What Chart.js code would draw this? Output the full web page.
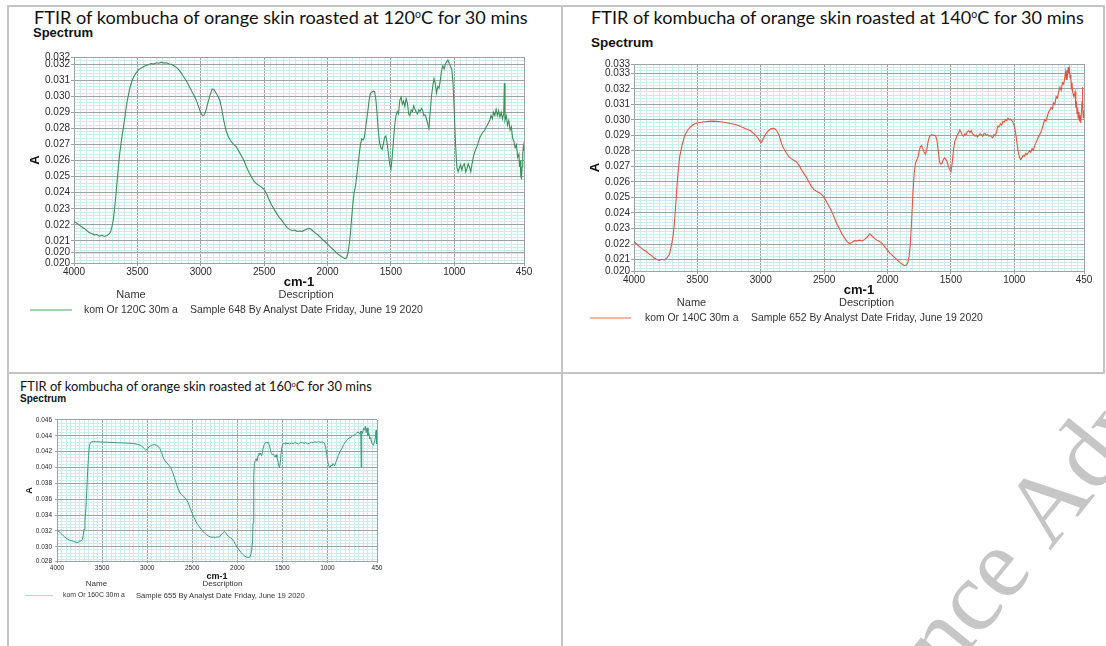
<!DOCTYPE html>
<html>
<head>
<meta charset="utf-8">
<script src="https://cdn.jsdelivr.net/npm/chart.js@4.4.1/dist/chart.umd.min.js"></script>
<style>
  html, body { margin: 0; padding: 0; background: #fff; }
  #page { position: relative; width: 1106px; height: 646px; overflow: hidden; background: #fff; }
  .rule { position: absolute; background: #c4c4c4; }
  .txt { position: absolute; white-space: nowrap; line-height: 1; }
  .head { font-family: Lato, "Open Sans", sans-serif; color: #111; }
  .head sup { font-size: 0.58em; vertical-align: 0.6em; line-height: 0; }
  .spec { font-family: "Liberation Sans", Arial, sans-serif; font-weight: bold; color: #111; }
  .leg { font-family: "Liberation Sans", Arial, sans-serif; color: #333; }
  canvas.plot, canvas.mark { position: absolute; }
  canvas.mark { left: 0; top: 0; pointer-events: none; }
</style>
</head>
<body>
<div id="page"></div>
<script>
// ---------- wavenumber axis (shared) ----------
const xMajorTicks = [4000, 3500, 3000, 2500, 2000, 1500, 1000, 450];
const xTickLabels = ['4000', '3500', '3000', '2500', '2000', '1500', '1000', '450'];

// ---------- kom Or 120C 30m a ----------
const wn120 = [4000,3980,3960,3940,3920,3900,3880,3860,3840,3820,3800,3780,3760,3740,3720,3710,3700,3690,3680,3670,
  3660,3650,3640,3630,3620,3610,3600,3590,3580,3570,3560,3545,3530,3510,3490,3470,3450,3430,3410,3390,
  3370,3350,3330,3310,3290,3270,3250,3230,3210,3190,3170,3150,3130,3110,3090,3070,3050,3030,3015,3000,
  2985,2970,2955,2940,2925,2910,2895,2880,2865,2850,2835,2820,2800,2780,2760,2740,2720,2700,2680,2660,
  2640,2620,2600,2580,2560,2540,2520,2500,2480,2460,2440,2420,2400,2380,2360,2340,2320,2300,2280,2260,
  2240,2220,2200,2180,2160,2140,2120,2100,2080,2060,2040,2020,2000,1980,1960,1940,1920,1900,1880,1865,
  1850,1840,1830,1820,1810,1800,1790,1780,1770,1760,1750,1740,1730,1720,1710,1700,1690,1680,1670,1660,
  1650,1640,1630,1620,1610,1600,1590,1580,1570,1560,1550,1540,1530,1520,1510,1500,1490,1480,1470,1460,
  1450,1440,1430,1420,1410,1400,1390,1380,1370,1360,1350,1340,1330,1320,1310,1300,1290,1280,1270,1260,
  1250,1240,1230,1220,1210,1200,1190,1180,1170,1160,1150,1140,1130,1120,1110,1100,1090,1080,1070,1060,
  1050,1040,1030,1020,1010,1000,990,980,970,960,950,940,930,920,910,900,890,880,870,860,
  850,840,830,820,810,800,780,760,740,720,710,700,690,680,670,660,650,640,630,620,
  610,605,600,590,580,570,560,550,540,530,520,510,500,490,485,480,475,470,465,460,455,450];
const abs120 = [.02220,.02212,.02200,.02188,.02178,.02165,.02152,.02146,.02138,.02140,.02130,.02135,.02128,.02134,.02145,.02160,.02190,.02230,.02300,.02380,
  .02470,.02560,.02640,.02700,.02760,.02810,.02860,.02920,.02970,.03010,.03050,.03090,.03120,.03145,.03165,.03175,.03185,.03192,.03198,.03203,
  .03200,.03208,.03205,.03212,.03206,.03208,.03200,.03198,.03188,.03178,.03162,.03140,.03115,.03090,.03060,.03030,.03000,.02965,.02930,.02895,
  .02878,.02885,.02925,.02970,.03012,.03045,.03040,.03022,.03000,.02975,.02925,.02855,.02785,.02745,.02718,.02700,.02685,.02660,.02630,.02600,
  .02562,.02528,.02498,.02472,.02456,.02446,.02434,.02420,.02392,.02355,.02322,.02295,.02270,.02245,.02228,.02205,.02185,.02172,.02165,.02168,
  .02160,.02162,.02160,.02168,.02175,.02178,.02165,.02152,.02140,.02125,.02110,.02095,.02080,.02065,.02050,.02035,.02020,.02008,.01998,.01990,
  .01995,.02020,.02070,.02140,.02240,.02330,.02400,.02440,.02500,.02570,.02640,.02700,.02735,.02728,.02742,.02800,.02860,.02920,.02985,.03020,
  .03025,.03032,.03030,.02990,.02900,.02790,.02715,.02680,.02670,.02700,.02745,.02752,.02712,.02645,.02580,.02545,.02620,.02720,.02820,.02880,
  .02905,.02890,.02975,.02995,.02950,.02970,.02935,.02985,.02960,.02890,.02880,.02915,.02905,.02940,.02920,.02900,.02890,.02915,.02905,.02925,
  .02915,.02880,.02885,.02860,.02830,.02800,.02900,.03000,.03060,.03110,.03080,.03020,.03060,.03050,.03100,.03160,.03190,.03170,.03200,.03215,
  .03225,.03205,.03185,.03170,.03080,.02900,.02700,.02560,.02530,.02555,.02575,.02540,.02570,.02580,.02530,.02550,.02580,.02560,.02530,.02580,
  .02620,.02650,.02670,.02690,.02715,.02740,.02770,.02790,.02820,.02850,.02880,.02860,.02900,.02880,.02920,.02880,.02910,.02870,.02900,.02860,
  .02890,.03080,.02850,.02880,.02820,.02850,.02790,.02810,.02740,.02720,.02680,.02700,.02620,.02640,.02560,.02600,.02500,.02490,.02560,.02640,.02690,.02660];
const yTicks120 = [0.01963, 0.0203, 0.021, 0.022, 0.023, 0.024, 0.025, 0.026, 0.027, 0.028, 0.029, 0.030, 0.031, 0.032, 0.03244];
const yLabels120 = ['0.020', '0.020', '0.021', '0.022', '0.023', '0.024', '0.025', '0.026', '0.027', '0.028', '0.029', '0.030', '0.031', '0.032', '0.032'];

// ---------- kom Or 140C 30m a ----------
const wn140 = [4000,3980,3960,3940,3920,3900,3880,3860,3840,3820,3800,3780,3760,3740,3720,3710,3700,3690,3680,3670,
  3660,3650,3640,3630,3620,3610,3600,3580,3560,3540,3520,3500,3470,3440,3410,3380,3350,3320,3290,3260,
  3230,3200,3170,3140,3110,3080,3060,3040,3020,3005,2995,2980,2960,2940,2920,2900,2885,2870,2855,2840,
  2825,2800,2780,2760,2740,2720,2700,2680,2660,2640,2620,2600,2580,2560,2540,2520,2500,2480,2460,2440,
  2420,2400,2380,2360,2340,2320,2300,2280,2260,2240,2220,2200,2180,2160,2140,2120,2100,2080,2060,2040,
  2020,2000,1980,1960,1940,1920,1900,1880,1865,1850,1840,1830,1820,1810,1800,1790,1780,1770,1760,1750,
  1740,1730,1720,1710,1700,1690,1680,1670,1660,1650,1640,1630,1620,1610,1600,1590,1580,1570,1560,1550,
  1540,1530,1520,1510,1500,1490,1480,1470,1460,1450,1440,1430,1420,1410,1400,1390,1380,1370,1360,1350,
  1340,1330,1320,1310,1300,1290,1280,1270,1260,1250,1240,1230,1220,1210,1200,1190,1180,1170,1160,1150,
  1140,1130,1120,1110,1100,1090,1080,1070,1060,1050,1040,1030,1020,1010,1000,990,980,970,960,950,
  940,930,920,910,900,890,880,870,860,850,840,830,820,810,800,790,780,770,760,750,
  740,730,720,710,700,690,680,670,660,650,640,630,620,610,600,595,590,585,580,575,
  570,565,560,555,550,545,540,530,520,515,510,505,500,495,490,485,480,475,470,465,462,460,455,450];
const abs140 = [.02215,.02200,.02185,.02172,.02160,.02150,.02135,.02125,.02110,.02100,.02095,.02102,.02098,.02110,.02135,.02170,.02210,.02260,.02350,.02460,
  .02590,.02680,.02760,.02800,.02840,.02870,.02900,.02930,.02950,.02965,.02975,.02980,.02985,.02988,.02990,.02992,.02990,.02988,.02985,.02980,
  .02975,.02970,.02962,.02950,.02940,.02930,.02915,.02900,.02880,.02860,.02855,.02880,.02910,.02930,.02942,.02945,.02940,.02925,.02900,.02860,
  .02825,.02790,.02765,.02750,.02740,.02730,.02710,.02680,.02655,.02630,.02600,.02570,.02550,.02540,.02530,.02520,.02500,.02470,.02440,.02410,
  .02370,.02330,.02300,.02265,.02240,.02215,.02203,.02210,.02222,.02220,.02225,.02220,.02230,.02245,.02265,.02250,.02235,.02222,.02215,.02200,
  .02180,.02160,.02140,.02125,.02110,.02095,.02080,.02068,.02060,.02065,.02080,.02120,.02200,.02350,.02520,.02650,.02720,.02740,.02760,.02800,
  .02830,.02835,.02810,.02790,.02780,.02810,.02860,.02890,.02900,.02905,.02900,.02900,.02895,.02870,.02800,.02730,.02715,.02720,.02745,.02755,
  .02745,.02730,.02700,.02680,.02665,.02720,.02800,.02860,.02880,.02900,.02915,.02935,.02920,.02900,.02895,.02910,.02905,.02925,.02930,.02918,
  .02930,.02910,.02905,.02895,.02902,.02890,.02900,.02910,.02905,.02895,.02910,.02912,.02900,.02905,.02895,.02900,.02890,.02885,.02905,.02900,
  .02920,.02960,.02955,.02975,.02965,.02990,.02985,.03000,.02995,.03010,.03000,.03005,.02995,.02985,.02960,.02920,.02860,.02800,.02760,.02745,
  .02755,.02770,.02765,.02785,.02775,.02790,.02800,.02790,.02815,.02805,.02830,.02850,.02870,.02890,.02905,.02920,.02945,.02975,.03000,.02990,
  .03020,.03050,.03060,.03080,.03070,.03110,.03100,.03150,.03140,.03180,.03210,.03190,.03240,.03230,.03280,.03310,.03260,.03320,.03290,.03340,
  .03300,.03330,.03270,.03290,.03200,.03240,.03180,.03150,.03180,.03080,.03120,.03040,.03080,.03010,.03050,.02990,.03030,.02980,.03060,.03120,.03210,.03090,.03010,.03060];
const yTicks140 = [0.02026, 0.021, 0.022, 0.023, 0.024, 0.025, 0.026, 0.027, 0.028, 0.029, 0.030, 0.031, 0.032, 0.033, 0.0336];
const yLabels140 = ['0.020', '0.021', '0.022', '0.023', '0.024', '0.025', '0.026', '0.027', '0.028', '0.029', '0.030', '0.031', '0.032', '0.033', '0.033'];

// ---------- kom Or 160C 30m a ----------
const wn160 = [4000,3980,3960,3940,3920,3900,3880,3860,3840,3820,3800,3780,3765,3750,3735,3720,3710,3700,3690,3680,
  3670,3660,3650,3640,3630,3620,3600,3560,3520,3480,3440,3400,3360,3320,3280,3240,3200,3160,3120,3080,
  3050,3030,3015,3000,2980,2960,2940,2920,2900,2880,2860,2840,2820,2800,2780,2760,2740,2720,2700,2680,
  2660,2640,2620,2600,2580,2560,2540,2520,2500,2480,2460,2440,2420,2400,2380,2360,2340,2320,2300,2280,
  2260,2240,2220,2200,2180,2160,2140,2120,2100,2080,2060,2040,2020,2000,1980,1960,1940,1920,1900,1880,
  1860,1850,1840,1830,1825,1820,1815,1810,1800,1790,1780,1770,1760,1750,1740,1730,1720,1710,1700,1690,
  1680,1670,1660,1650,1640,1630,1620,1610,1600,1590,1580,1570,1560,1550,1540,1530,1520,1510,1500,1490,
  1480,1470,1460,1450,1440,1420,1400,1380,1360,1340,1320,1300,1280,1260,1240,1220,1200,1180,1160,1140,
  1120,1100,1080,1060,1040,1030,1020,1010,1000,990,980,970,960,950,940,930,920,910,900,880,
  860,840,820,800,780,760,740,720,700,680,660,640,630,625,620,610,600,590,580,570,
  560,550,540,530,520,510,500,490,480,470,460,455,450];
const abs160 = [.03210,.03195,.03170,.03150,.03130,.03110,.03095,.03082,.03075,.03068,.03060,.03055,.03050,.03075,.03070,.03090,.03140,.03220,.03320,.03480,
  .03700,.03950,.04150,.04280,.04310,.04322,.04326,.04324,.04322,.04320,.04318,.04316,.04314,.04312,.04310,.04308,.04305,.04302,.04296,.04284,
  .04260,.04235,.04218,.04230,.04258,.04274,.04284,.04288,.04282,.04268,.04240,.04190,.04120,.04080,.04055,.04030,.04000,.03950,.03880,.03810,
  .03740,.03690,.03660,.03640,.03620,.03590,.03540,.03480,.03420,.03370,.03320,.03280,.03250,.03220,.03190,.03170,.03150,.03135,.03125,.03120,
  .03122,.03118,.03125,.03120,.03150,.03175,.03190,.03160,.03130,.03115,.03100,.03070,.03030,.02990,.02960,.02930,.02905,.02885,.02870,.02865,
  .02870,.02900,.02960,.03080,.03300,.03600,.03900,.04050,.04090,.04110,.04080,.04150,.04180,.04160,.04180,.04150,.04200,.04260,.04290,.04310,
  .04320,.04310,.04320,.04300,.04260,.04200,.04180,.04160,.04170,.04150,.04130,.04160,.04130,.04080,.04020,.04000,.04100,.04220,.04280,.04300,
  .04305,.04295,.04315,.04298,.04306,.04296,.04306,.04298,.04314,.04305,.04296,.04314,.04314,.04305,.04314,.04298,.04305,.04318,.04314,.04322,
  .04318,.04326,.04318,.04322,.04314,.04296,.04260,.04180,.04100,.04040,.04010,.04000,.04030,.04020,.04050,.04040,.04020,.04060,.04080,.04150,
  .04200,.04240,.04290,.04320,.04350,.04370,.04380,.04400,.04410,.04430,.04450,.04420,.04460,.04000,.04460,.04430,.04490,.04470,.04520,.04440,
  .04500,.04400,.04430,.04360,.04380,.04320,.04290,.04280,.04320,.04360,.04470,.04300,.04320];
const yTicks160 = [0.0282, 0.030, 0.032, 0.034, 0.036, 0.038, 0.040, 0.042, 0.044, 0.046];
const yLabels160 = ['0.028', '0.030', '0.032', '0.034', '0.036', '0.038', '0.040', '0.042', '0.044', '0.046'];

// ---------- drawing helpers ----------
const page = document.getElementById('page');
const GRID_MINOR = '#cdebee';
const GRID_MAJOR = '#9aa4a4';
const SANS = '"Liberation Sans", Arial, sans-serif';

function rule(x, y, w, h) {
  const d = document.createElement('div');
  d.className = 'rule';
  Object.assign(d.style, { left: x + 'px', top: y + 'px', width: w + 'px', height: h + 'px' });
  page.appendChild(d);
}

function addText(html, cls, x, cy, size, align, fitWidth) {
  const el = document.createElement('div');
  el.className = 'txt ' + cls;
  el.innerHTML = html;
  el.style.fontSize = size + 'px';
  page.appendChild(el);
  if (fitWidth) {
    const w0 = el.getBoundingClientRect().width;
    el.style.fontSize = (size * fitWidth / w0) + 'px';
  }
  const r = el.getBoundingClientRect();
  el.style.top = (cy - r.height / 2) + 'px';
  el.style.left = (align === 'center' ? x - r.width / 2 : x) + 'px';
  return el;
}

function legendLine(x1, x2, y, color) {
  const d = document.createElement('div');
  Object.assign(d.style, { position: 'absolute', left: x1 + 'px', top: (y - 0.75) + 'px',
    width: (x2 - x1) + 'px', height: '1.5px', background: color });
  page.appendChild(d);
}

// tick list: labelled values plus evenly spaced unlabelled grid values
function gridTicks(labelVals, lo, hi, step) {
  const out = labelVals.map(v => ({ value: v, isMain: true }));
  const k0 = Math.ceil(lo / step - 1e-6), k1 = Math.floor(hi / step + 1e-6);
  for (let k = k0; k <= k1; k++) {
    const v = +(k * step).toFixed(6);
    if (!out.some(t => Math.abs(t.value - v) < step * 0.3)) out.push({ value: v, isMain: false });
  }
  return out.sort((a, b) => a.value - b.value);
}

function spectrum(box, s) {
  const cv = document.createElement('canvas');
  cv.className = 'plot';
  cv.width = box.w; cv.height = box.h;
  Object.assign(cv.style, { left: box.x + 'px', top: box.y + 'px', width: box.w + 'px', height: box.h + 'px' });
  page.appendChild(cv);

  const yMin = s.yTicks[0], yMax = s.yTicks[s.yTicks.length - 1];
  const xLab = new Map(xMajorTicks.map((v, i) => [v, xTickLabels[i]]));
  const yLab = new Map(s.yTicks.map((v, i) => [v, s.yLabels[i]]));
  const gridColor = c => (c.tick && c.tick.isMain) ? GRID_MAJOR : GRID_MINOR;
  const tickColor = c => (c.tick && c.tick.isMain) ? GRID_MAJOR : 'rgba(0,0,0,0)';

  return new Chart(cv, {
    type: 'line',
    data: {
      datasets: [{
        data: s.wn.map((w, i) => ({ x: w, y: s.abs[i] })),
        borderColor: s.color, borderWidth: s.lw, pointRadius: 0, tension: 0, fill: false
      }]
    },
    options: {
      responsive: false, animation: false, devicePixelRatio: 1,
      layout: { padding: { left: 0, right: s.padR, top: s.padT, bottom: 0 } },
      plugins: { legend: { display: false }, tooltip: { enabled: false }, title: { display: false } },
      scales: {
        x: {
          type: 'linear', reverse: true, min: 450, max: 4000,
          afterBuildTicks: sc => { sc.ticks = gridTicks(xMajorTicks, 450, 4000, 50); },
          afterFit: sc => { sc.height = s.xH; },
          ticks: { autoSkip: false, maxRotation: 0, minRotation: 0, padding: s.xPad,
            font: { family: SANS, size: s.tickSize }, color: '#2a2a2a',
            callback: v => xLab.has(v) ? xLab.get(v) : '' },
          grid: { color: gridColor, lineWidth: 1, tickLength: s.tickLen, tickColor: tickColor, drawTicks: true },
          border: { color: GRID_MAJOR, width: 1 },
          title: { display: true, text: 'cm-1', color: '#111', padding: { top: 0, bottom: 0 },
            font: { family: SANS, size: s.axisTitle, weight: 'bold' } }
        },
        y: {
          type: 'linear', min: yMin, max: yMax,
          afterBuildTicks: sc => { sc.ticks = gridTicks(s.yTicks, yMin, yMax, s.yStep); },
          afterFit: sc => { sc.width = s.yW; },
          ticks: { autoSkip: false, padding: s.yPad,
            font: { family: SANS, size: s.tickSize }, color: '#2a2a2a',
            callback: v => yLab.has(v) ? yLab.get(v) : '' },
          grid: { color: gridColor, lineWidth: 1, tickLength: s.tickLen, tickColor: tickColor, drawTicks: true },
          border: { color: GRID_MAJOR, width: 1 },
          title: { display: true, text: 'A', color: '#111', padding: { top: 0, bottom: 0 },
            font: { family: SANS, size: s.axisTitle, weight: 'bold' } }
        }
      }
    }
  });
}

// ---------- table frame ----------
rule(7, 5, 1098, 2);      // top
rule(7, 5, 2, 641);       // left
rule(561, 5, 2, 641);     // middle
rule(1103, 5, 2, 369);    // right (upper row)
rule(7, 372, 1098, 2);    // row divider

// ---------- 120 °C ----------
addText('FTIR of kombucha of orange skin roasted at 120<sup>o</sup>C for 30 mins', 'head', 34, 17.5, 20, 'left', 494);
addText('Spectrum', 'spec', 33, 32, 13, 'left');
spectrum({ x: 28, y: 50, w: 510, h: 240 }, {
  wn: wn120, abs: abs120, yTicks: yTicks120, yLabels: yLabels120, yStep: 0.0002,
  color: '#3e8f57', lw: 1.1, padR: 14, padT: 7, xH: 27, yW: 46,
  tickSize: 10, tickLen: 3, xPad: 0, yPad: 1, axisTitle: 13
});
addText('Name', 'leg', 131, 294, 11, 'center');
addText('Description', 'leg', 306, 294, 11, 'center');
legendLine(30, 72, 310, '#a3d2b1');
addText('kom Or 120C 30m a', 'leg', 84, 310, 11, 'left', 94);
addText('Sample 648 By Analyst Date Friday, June 19 2020', 'leg', 190, 310, 11, 'left', 233);

// ---------- 140 °C ----------
addText('FTIR of kombucha of orange skin roasted at 140<sup>o</sup>C for 30 mins', 'head', 591, 17, 20, 'left', 493);
addText('Spectrum', 'spec', 591, 43, 13.5, 'left');
spectrum({ x: 588, y: 57, w: 510, h: 241 }, {
  wn: wn140, abs: abs140, yTicks: yTicks140, yLabels: yLabels140, yStep: 0.0002,
  color: '#e2553f', lw: 1.1, padR: 14, padT: 7, xH: 27, yW: 46,
  tickSize: 10, tickLen: 3, xPad: 0, yPad: 1, axisTitle: 13
});
addText('Name', 'leg', 691.5, 302.5, 11, 'center');
addText('Description', 'leg', 866.5, 302.5, 11, 'center');
legendLine(590, 631, 318, '#f1b6a6');
addText('kom Or 140C 30m a', 'leg', 645, 318, 11, 'left', 93.5);
addText('Sample 652 By Analyst Date Friday, June 19 2020', 'leg', 751, 318, 11, 'left', 232);

// ---------- 160 °C ----------
addText('FTIR of kombucha of orange skin roasted at 160<sup>o</sup>C for 30 mins', 'head', 20, 386, 14, 'left', 352);
addText('Spectrum', 'spec', 20, 398.5, 10, 'left');
spectrum({ x: 24, y: 413, w: 361, h: 169 }, {
  wn: wn160, abs: abs160, yTicks: yTicks160, yLabels: yLabels160, yStep: 0.0004,
  color: '#3a9a80', lw: 1, padR: 8, padT: 5, xH: 21, yW: 33,
  tickSize: 6.5, tickLen: 2, xPad: 1, yPad: 3, axisTitle: 9
});
addText('Name', 'leg', 96.5, 583.5, 8, 'center');
addText('Description', 'leg', 222.5, 583.5, 8, 'center');
legendLine(25, 53, 595.5, '#b3dccd');
addText('kom Or 160C 30m a', 'leg', 63, 595.5, 8, 'left', 62);
addText('Sample 655 By Analyst Date Friday, June 19 2020', 'leg', 136, 595.5, 8, 'left', 169);

// ---------- diagonal page stamp ----------
(function () {
  const cv = document.createElement('canvas');
  cv.className = 'mark';
  cv.width = 1106; cv.height = 646;
  page.appendChild(cv);
  const g = cv.getContext('2d');
  g.save();
  g.translate(1050, 551);
  g.rotate(-51 * Math.PI / 180);
  g.font = '100px "Liberation Serif", "DejaVu Serif", serif';
  g.fillStyle = '#c6c6c6';
  g.textBaseline = 'alphabetic';
  const pre = 'Science ';
  g.fillText(pre, -g.measureText(pre).width, 0);
  g.fillText('Advances', 0, 0);
  g.restore();
})();
</script>
</body>
</html>
